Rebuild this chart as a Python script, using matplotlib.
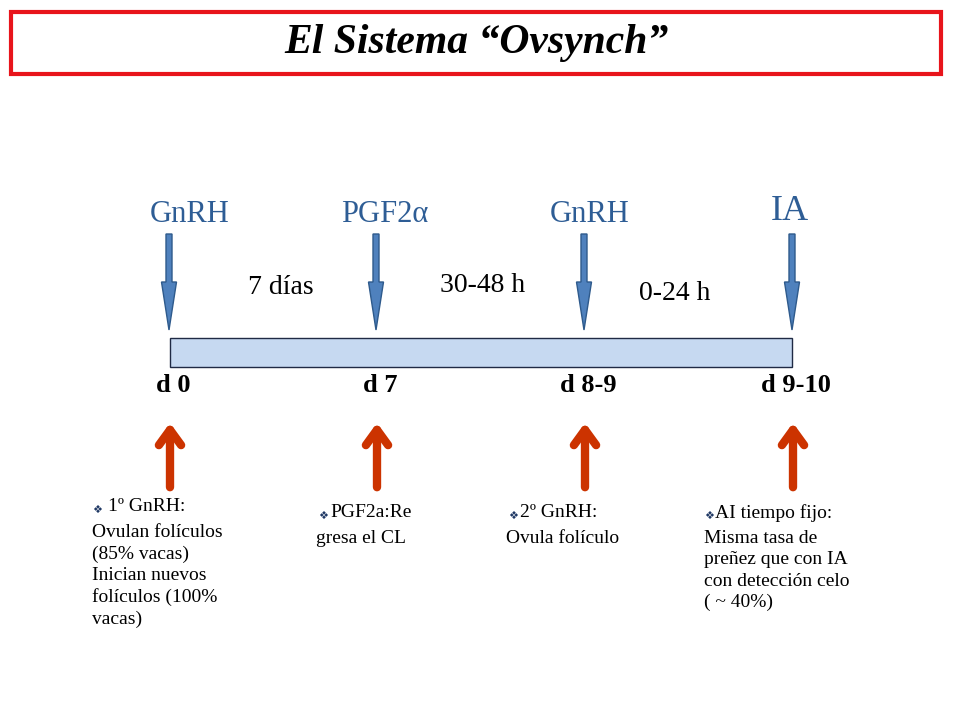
import matplotlib.pyplot as plt
from matplotlib.patches import Rectangle, FancyArrow

SERIF = "Liberation Serif"

# eventos del protocolo
hormonas = ["GnRH", "PGF2α", "GnRH", "IA"]
dias = ["d 0", "d 7", "d 8-9", "d 9-10"]
intervalos = ["7 días", "30-48 h", "0-24 h"]
notas = [
    "1º GnRH:\nOvulan folículos\n(85% vacas)\nInician nuevos\nfolículos (100%\nvacas)",
    "PGF2a:Re\ngresa el CL",
    "2º GnRH:\nOvula folículo",
    "AI tiempo fijo:\nMisma tasa de\npreñez que con IA\ncon detección celo\n( ~ 40%)",
]

# posiciones (px)
xs = [169, 376, 584, 792]
hx = [190, 385, 590, 790]
ix = [281, 483, 675]
iy = [288, 286, 294]
nx = [92, 316, 506, 704]
ny = [498, 504, 504, 504]
bx = [92, 318, 508, 704]   # viñetas
tx = [108, 330, 520, 715]  # inicio de la primera línea

fig = plt.figure(figsize=(9.6, 7.2), dpi=100)
ax = fig.add_axes([0, 0, 1, 1])
ax.set_xlim(0, 960)
ax.set_ylim(720, 0)
ax.axis("off")

ax.add_patch(Rectangle((11, 12), 930, 62, fill=False, edgecolor="#E8141B", lw=3))
ax.text(476, 43, "El Sistema “Ovsynch”", ha="center", va="center",
        fontsize=30, fontstyle="italic", fontweight="bold", family=SERIF)

ax.add_patch(Rectangle((170, 338), 622, 29, facecolor="#C6D9F1", edgecolor="#1F2A44", lw=1))

azul = "#2E5D95"
for i in range(4):
    size = 26 if hormonas[i] == "IA" else 22
    y = 212 if hormonas[i] == "IA" else 215
    ax.text(hx[i], y, hormonas[i], ha="center", va="center", color=azul,
            fontsize=size, family=SERIF)
    ax.add_patch(FancyArrow(xs[i], 234, 0, 96, width=6, head_width=15,
                            head_length=48, length_includes_head=True,
                            facecolor="#4F81BD", edgecolor="#2E5A8C", lw=1))
    ax.text(xs[i] + 4, 385, dias[i], ha="center", va="center",
            fontsize=19, fontweight="bold", family=SERIF)
    ax.annotate("", xy=(xs[i] + 1, 420), xytext=(xs[i] + 1, 490),
                arrowprops=dict(arrowstyle="->,head_length=1.1,head_width=0.8",
                                color="#CC3300", lw=6))
    lineas = notas[i].split("\n")
    ax.text(bx[i], ny[i] + 12, "❖", ha="left", va="center", fontsize=8,
            family="DejaVu Sans", color="#1F3864")
    ax.text(tx[i], ny[i], lineas[0], ha="left", va="top", fontsize=14,
            family=SERIF)
    if len(lineas) > 1:
        ax.text(nx[i], ny[i] + 26, "\n".join(lineas[1:]), ha="left", va="top",
                fontsize=14, family=SERIF, linespacing=1.33)

for i in range(3):
    ax.text(ix[i], iy[i], intervalos[i], ha="center", va="center",
            fontsize=20, family=SERIF)

fig.savefig("out.png", dpi=100)
